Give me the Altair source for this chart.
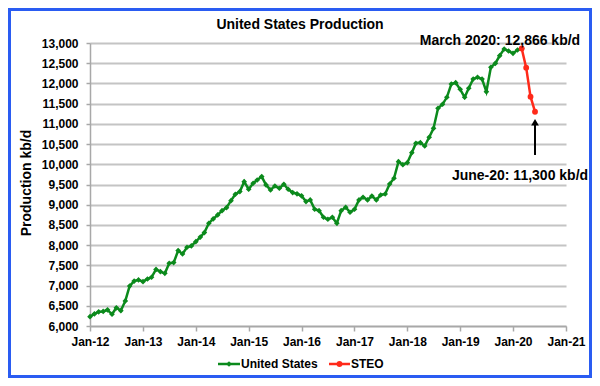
import altair as alt
import pandas as pd

FONT = "Liberation Sans"
GREEN = "#0b8a1c"
RED = "#ff2a1a"
BLUE = "#2a5cf2"

# ---- data (kb/d), monthly ----
us_2012 = [6231, 6300, 6350, 6360, 6400, 6290, 6450, 6380, 6620, 6990, 7110, 7140]
us_2013 = [7097, 7163, 7205, 7400, 7345, 7303, 7551, 7568, 7865, 7783, 7947, 7980]
us_2014 = [8086, 8200, 8311, 8542, 8648, 8747, 8853, 8928, 9100, 9258, 9324, 9571]
us_2015 = [9383, 9530, 9612, 9695, 9489, 9365, 9464, 9407, 9506, 9383, 9300, 9270]
us_2016 = [9220, 9077, 9118, 8887, 8853, 8689, 8640, 8689, 8541, 8853, 8937, 8813]
us_2017 = [8887, 9118, 9184, 9118, 9216, 9118, 9241, 9266, 9513, 9654, 10065, 9990]
us_2018 = [10040, 10287, 10520, 10535, 10453, 10668, 10890, 11385, 11484, 11657, 11986, 12018]
us_2019 = [11855, 11657, 11880, 12110, 12152, 12110, 11796, 12400, 12497, 12687, 12852, 12802]
us_2020 = [12745, 12827, 12866]
us_values = us_2012 + us_2013 + us_2014 + us_2015 + us_2016 + us_2017 + us_2018 + us_2019 + us_2020
us_months = [f"{2012 + i // 12}-{i % 12 + 1:02d}-01T00:00:00" for i in range(len(us_values))]

steo_months = ["2020-03-01T00:00:00", "2020-04-01T00:00:00", "2020-05-01T00:00:00", "2020-06-01T00:00:00"]
steo_values = [12866, 12390, 11672, 11300]

arrow_month = ["2020-06-01T00:00:00"]
arrow_from = [10230]
arrow_to = [11040]

tick_years = list(range(2012, 2022))
y_ticks = list(range(6000, 13001, 500))

us_df = pd.DataFrame({"date": us_months, "value": us_values})
steo_df = pd.DataFrame({"date": steo_months, "value": steo_values})
arrow_df = pd.DataFrame({"date": arrow_month, "value": arrow_from, "value2": arrow_to})
one = pd.DataFrame({"k": [0]})

x_scale = alt.Scale(
    domain=[alt.DateTime(year=2012, month=1, date=1), alt.DateTime(year=2021, month=1, date=1)],
    nice=False,
)
x_axis = alt.Axis(
    values=[alt.DateTime(year=y, month=1, date=1) for y in tick_years],
    format="%b-%y",
    grid=False,
    tickSize=5,
    labelPadding=5,
    labelFlush=False,
    labelOverlap=False,
    title=None,
)
y_scale = alt.Scale(domain=[6000, 13000], nice=False, zero=False)
y_axis = alt.Axis(
    values=y_ticks,
    labelExpr="format(datum.value, ',')",
    grid=True,
    tickSize=4,
    labelPadding=8,
    labelOverlap=False,
    labelFlush=False,
    title=None,
)


def X(field="date"):
    return alt.X(f"{field}:T", scale=x_scale, axis=x_axis)


def Y(field="value"):
    return alt.Y(f"{field}:Q", scale=y_scale, axis=y_axis)


us_line = alt.Chart(us_df).mark_line(color=GREEN, strokeWidth=2.5).encode(x=X(), y=Y())
us_pts = alt.Chart(us_df).mark_point(shape="diamond", filled=True, size=32, color=GREEN, opacity=1).encode(
    x=X(), y=Y()
)
steo_line = alt.Chart(steo_df).mark_line(color=RED, strokeWidth=2.5).encode(x=X(), y=Y())
steo_pts = alt.Chart(steo_df).mark_point(shape="circle", filled=True, size=34, color=RED, opacity=1).encode(
    x=X(), y=Y()
)

arrow_rule = alt.Chart(arrow_df).mark_rule(color="black", strokeWidth=2).encode(
    x=X(), y=Y(), y2="value2:Q"
)
arrow_head = alt.Chart(arrow_df).mark_point(shape="triangle-up", filled=True, size=60, color="black", opacity=1).encode(
    x=X(), y=Y("value2")
)


def label(txt, x, y, size, align="center", baseline="alphabetic", angle=0):
    return alt.Chart(one).mark_text(
        text=txt, font=FONT, fontSize=size, fontWeight="bold", color="black",
        align=align, baseline=baseline, angle=angle,
    ).encode(x=alt.value(x), y=alt.value(y))


title = label("United States Production", 210, -14, 14)
ytitle = label("Production kb/d", -63, 140, 14, baseline="middle", angle=270)
ann1 = label("March 2020: 12,866 kb/d", 410, 2, 14)
ann2 = label("June-20: 11,300 kb/d", 430, 137, 14)

# manual legend
leg_y = 321
leg_g_line = alt.Chart(one).mark_rule(color=GREEN, strokeWidth=2.5).encode(
    x=alt.value(128), x2=alt.value(150), y=alt.value(leg_y)
)
leg_g_pt = alt.Chart(one).mark_point(shape="diamond", filled=True, size=32, color=GREEN, opacity=1).encode(
    x=alt.value(139), y=alt.value(leg_y)
)
leg_g_txt = label("United States", 151, leg_y, 12, align="left", baseline="middle")
leg_r_line = alt.Chart(one).mark_rule(color=RED, strokeWidth=2.5).encode(
    x=alt.value(239), x2=alt.value(260), y=alt.value(leg_y)
)
leg_r_pt = alt.Chart(one).mark_point(shape="circle", filled=True, size=34, color=RED, opacity=1).encode(
    x=alt.value(249.5), y=alt.value(leg_y)
)
leg_r_txt = label("STEO", 261, leg_y, 12, align="left", baseline="middle")

border = alt.Chart(one).mark_rect(fill=None, stroke=BLUE, strokeWidth=3).encode(
    x=alt.value(-80.5), x2=alt.value(500.5), y=alt.value(-33.5), y2=alt.value(333.5)
)

chart = alt.layer(
    us_line, us_pts, steo_line, steo_pts, arrow_rule, arrow_head,
    title, ytitle, ann1, ann2,
    leg_g_line, leg_g_pt, leg_g_txt, leg_r_line, leg_r_pt, leg_r_txt,
    border,
).properties(
    width=476,
    height=283,
    padding={"left": 82, "top": 35, "right": 26, "bottom": 52},
    autosize=alt.AutoSizeParams(type="none"),
    background="white",
).configure_view(
    stroke=None
).configure_axis(
    labelFont=FONT,
    labelFontSize=12,
    labelFontWeight="bold",
    labelColor="black",
    gridColor="#c4c4c4",
    gridWidth=2,
    domainColor="#a8a8a8",
    domainWidth=1.5,
    tickColor="#a8a8a8",
    tickWidth=1.5,
)

chart.save("out.html", embed_options={"renderer": "svg", "actions": False})
